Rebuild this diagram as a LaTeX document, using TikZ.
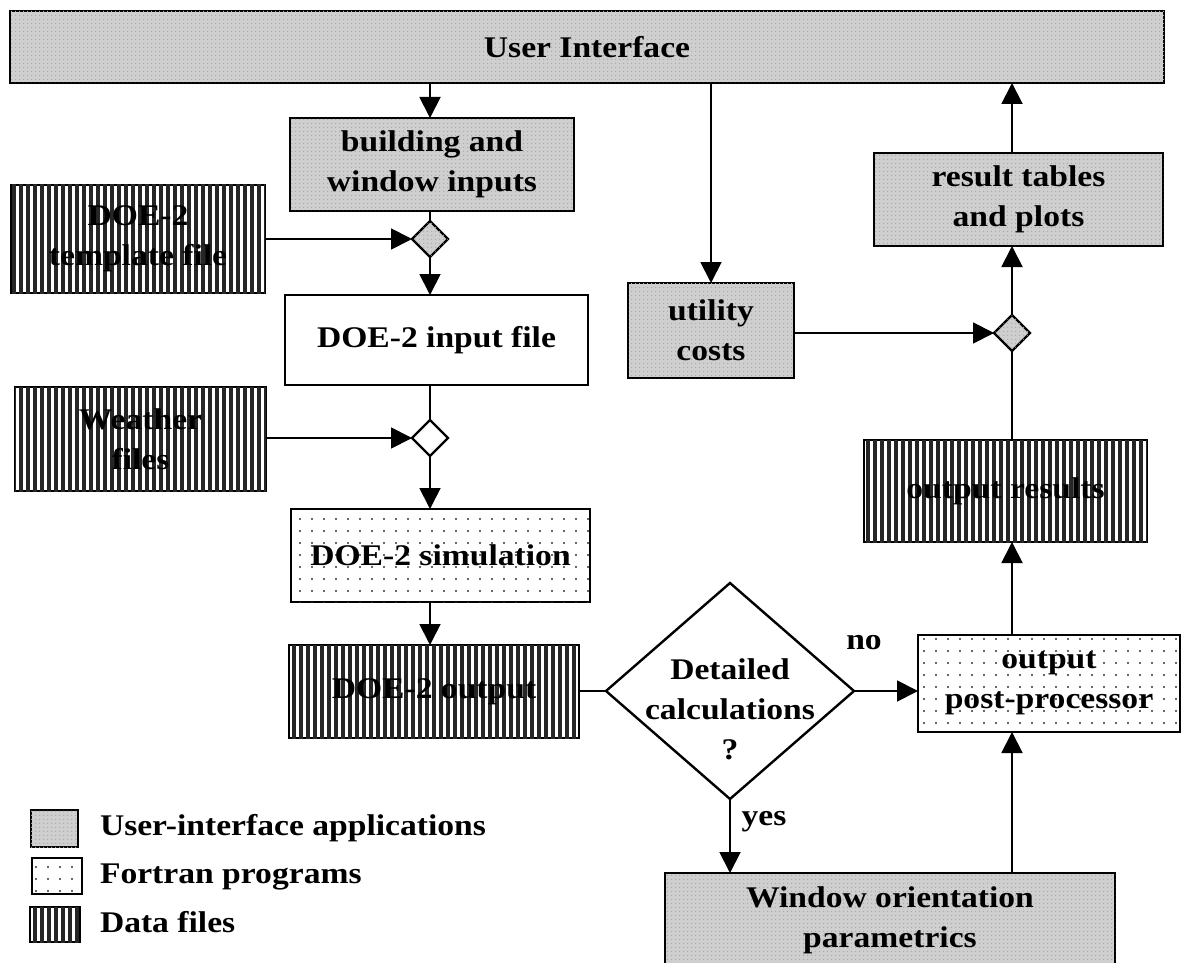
\documentclass[tikz,border=0pt]{standalone}
\usepackage{fontspec}
\setmainfont[FakeStretch=1.12]{Liberation Serif}
\usetikzlibrary{arrows.meta,shapes.geometric,patterns,patterns.meta}
\begin{document}
\begin{tikzpicture}[x=1pt,y=-1pt,
  every node/.style={font=\fontsize{30}{40}\selectfont\bfseries, align=center, inner sep=0pt, outer sep=0pt},
  uibox/.style={draw, line width=2.4pt, fill=gray!38, postaction={pattern={Dots[distance=4pt,radius=0.9pt]}, pattern color=gray!65}},
  fbox/.style={draw, line width=2.4pt, fill=white, postaction={pattern={Dots[distance=12pt,radius=1.2pt]}, pattern color=black!80}},
  dbox/.style={draw, line width=2.4pt, fill=white, postaction={pattern={Lines[angle=90,distance=7pt,line width=3.2pt]}, pattern color=black!85}},
  pbox/.style={draw, line width=2.4pt, fill=white},
  conn/.style={line width=1.9pt},
  arr/.style={conn, -{Triangle[length=21pt,width=21pt]}},
  jd/.style={diamond, draw, line width=2.4pt, minimum width=36pt, minimum height=36pt, aspect=1},
  lbl/.style={font=\fontsize{30}{40}\selectfont\bfseries}
]
\useasboundingbox (0,0) rectangle (1187,963);

% boxes
\node[uibox, minimum width=1154pt, minimum height=72pt] (ui) at (587,47) {User Interface};
\node[uibox, minimum width=284pt, minimum height=93pt] (bwi) at (432,164.5) {building and\\window inputs};
\node[dbox, minimum width=254pt, minimum height=108pt] (tmpl) at (138,239) {DOE-2\\template file};
\node[jd, uibox] (d1) at (430,239) {};
\node[pbox, minimum width=303pt, minimum height=90pt] (inp) at (436.5,340) {DOE-2 input file};
\node[dbox, minimum width=251pt, minimum height=104pt] (wth) at (140.5,439) {Weather\\files};
\node[jd, fill=white] (d2) at (430,438) {};
\node[fbox, minimum width=299pt, minimum height=93pt] (sim) at (440.5,555.5) {DOE-2 simulation};
\node[dbox, minimum width=290pt, minimum height=93pt] (out) at (434,691.5) {DOE-2 output};
\node[diamond, draw, line width=2.4pt, fill=white, minimum width=248pt, minimum height=216pt] (det) at (730,691) {};
\node (dett) at (730,709) {Detailed\\calculations\\?};
\node[fbox, minimum width=262pt, minimum height=97pt] (post) at (1049,683.5) {output\\post-processor};
\node[uibox, minimum width=450pt, minimum height=94pt] (win) at (890,920) {Window orientation\\parametrics};
\node[uibox, minimum width=166pt, minimum height=95pt] (utl) at (711,330.5) {utility\\costs};
\node[jd, uibox] (d3) at (1012,333) {};
\node[dbox, minimum width=283pt, minimum height=102pt] (ores) at (1005.5,491) {output results};
\node[uibox, minimum width=289pt, minimum height=93pt] (rtp) at (1018.5,199.5) {result tables\\and plots};

% connectors
\draw[arr] (ui.south -| d1) -- (bwi.north -| d1);
\draw[conn] (bwi.south -| d1) -- (d1.north);
\draw[arr] (tmpl.east |- d1) -- (d1.west);
\draw[arr] (d1.south) -- (inp.north -| d1);
\draw[conn] (inp.south -| d2) -- (d2.north);
\draw[arr] (wth.east |- d2) -- (d2.west);
\draw[arr] (d2.south) -- (sim.north -| d2);
\draw[arr] (sim.south -| d2) -- (out.north -| d2);
\draw[conn] (out.east |- det) -- (det.west);
\draw[arr] (det.east) -- (det.east -| post.west);
\draw[arr] (det.south) -- (det.south |- win.north);
\draw[arr] (win.north -| d3) -- (post.south -| d3);
\draw[arr] (post.north -| d3) -- (ores.south -| d3);
\draw[conn] (ores.north -| d3) -- (d3.south);
\draw[arr] (utl.east |- d3) -- (d3.west);
\draw[arr] (d3.north) -- (rtp.south -| d3);
\draw[arr] (rtp.north -| d3) -- (ui.south -| d3);
\draw[arr] (ui.south -| utl.north) -- (utl.north);

% labels
\node[lbl] (no) at (864,643) {no};
\node[lbl] (yes) at (764,822) {yes};

% legend
\node[uibox, line width=2pt, minimum width=47pt, minimum height=37pt] (lg1) at (54.5,828.5) {};
\node[fbox, line width=2pt, minimum width=50pt, minimum height=36pt] (lg2) at (57,876) {};
\node[dbox, line width=2pt, minimum width=50pt, minimum height=35pt] (lg3) at (55,924.5) {};
\node[anchor=west] (lt1) at (100,828) {User-interface applications};
\node[anchor=west] (lt2) at (100,877) {Fortran programs};
\node[anchor=west] (lt3) at (100,922) {Data files};
\end{tikzpicture}
\end{document}
